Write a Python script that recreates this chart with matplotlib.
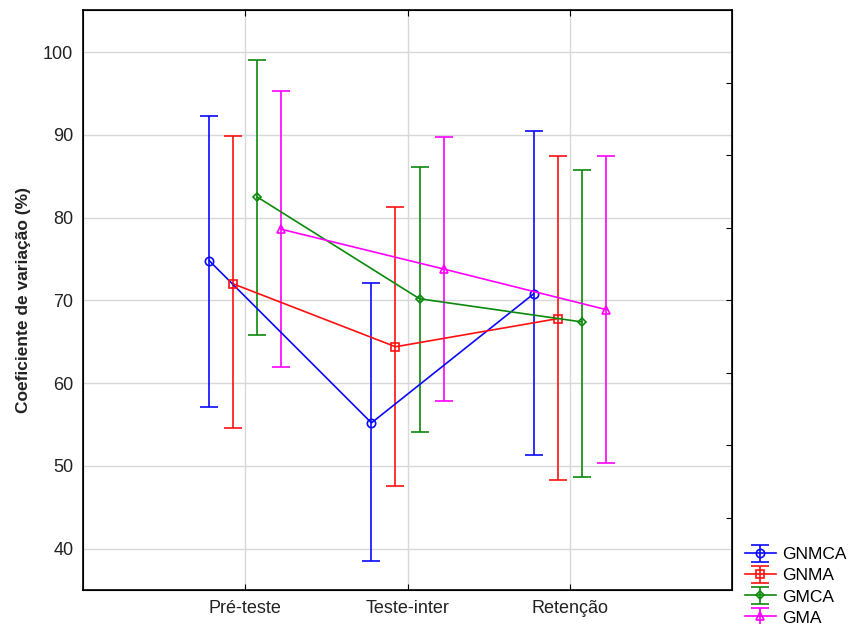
import numpy as np
import matplotlib.pyplot as plt

plt.rcParams['font.family'] = ['Liberation Sans', 'DejaVu Sans']

# dados
categorias = ['Pré-teste', 'Teste-inter', 'Retenção']
grupos = ['GNMCA', 'GNMA', 'GMCA', 'GMA']

media_gnmca = [74.8, 55.2, 70.8]
sup_gnmca = [92.3, 72.1, 90.5]
inf_gnmca = [57.1, 38.5, 51.3]

media_gnma = [72.0, 64.4, 67.8]
sup_gnma = [89.9, 81.3, 87.5]
inf_gnma = [54.6, 47.6, 48.3]

media_gmca = [82.5, 70.2, 67.4]
sup_gmca = [99.1, 86.1, 85.8]
inf_gmca = [65.8, 54.1, 48.6]

media_gma = [78.6, 73.8, 68.9]
sup_gma = [95.3, 89.7, 87.5]
inf_gma = [61.9, 57.8, 50.3]

medias = [media_gnmca, media_gnma, media_gmca, media_gma]
sups = [sup_gnmca, sup_gnma, sup_gmca, sup_gma]
infs = [inf_gnmca, inf_gnma, inf_gmca, inf_gma]

cores = ['#0a0aff', '#ff1010', '#0a8a0a', '#ff00ff']
marcadores = ['o', 's', 'D', '^']
tamanhos = [6, 6, 4.5, 6]
deslocs = [-0.222, -0.074, 0.074, 0.222]

fig = plt.figure(figsize=(8.5, 6.24), dpi=100)
ax = fig.add_axes([83 / 850, 34 / 624, (732 - 83) / 850, 580 / 624])

x = np.arange(len(categorias))
handles = []
for i in range(4):
    m = np.array(medias[i])
    err = [m - np.array(infs[i]), np.array(sups[i]) - m]
    h = ax.errorbar(x + deslocs[i], m, yerr=err, color=cores[i], lw=1.2,
                    marker=marcadores[i], ms=tamanhos[i], mfc='none', mew=1.2,
                    capsize=6.5, capthick=1.2, elinewidth=1.2, zorder=3,
                    label=grupos[i])
    handles.append(h)

ax.set_xlim(-1, 3)
ax.set_ylim(35, 105.1)
ax.set_xticks(x)
ax.set_xticklabels(categorias, fontsize=13)
ax.set_yticks(np.arange(40, 101, 10))
ax.tick_params(axis='y', labelsize=13, length=0, pad=7, labelcolor='#222222')
ax.tick_params(axis='x', direction='in', length=4, top=True, pad=7, labelcolor='#222222')
ax.grid(True, color='#d8d8d8', lw=1.0, zorder=0)
ax.set_axisbelow(True)
for s in ax.spines.values():
    s.set_linewidth(1.2)
ax.set_ylabel('Coeficiente de variação (%)', fontsize=12.5, fontweight='bold',
              labelpad=9, color='#222222')

# marcas do eixo direito (escala própria)
ax2 = ax.twinx()
ax2.set_ylim(0, 8)
ax2.set_yticks(np.arange(1, 8))
ax2.set_yticklabels([])
ax2.tick_params(axis='y', direction='in', length=4)

fig.legend(handles=handles, labels=grupos, loc='lower left',
           bbox_to_anchor=(733 / 850, -0.022), frameon=False, fontsize=12.5,
           handlelength=1.75, handletextpad=0.4, labelspacing=0.34, borderpad=0.2)

fig.savefig('out.png', dpi=100)
